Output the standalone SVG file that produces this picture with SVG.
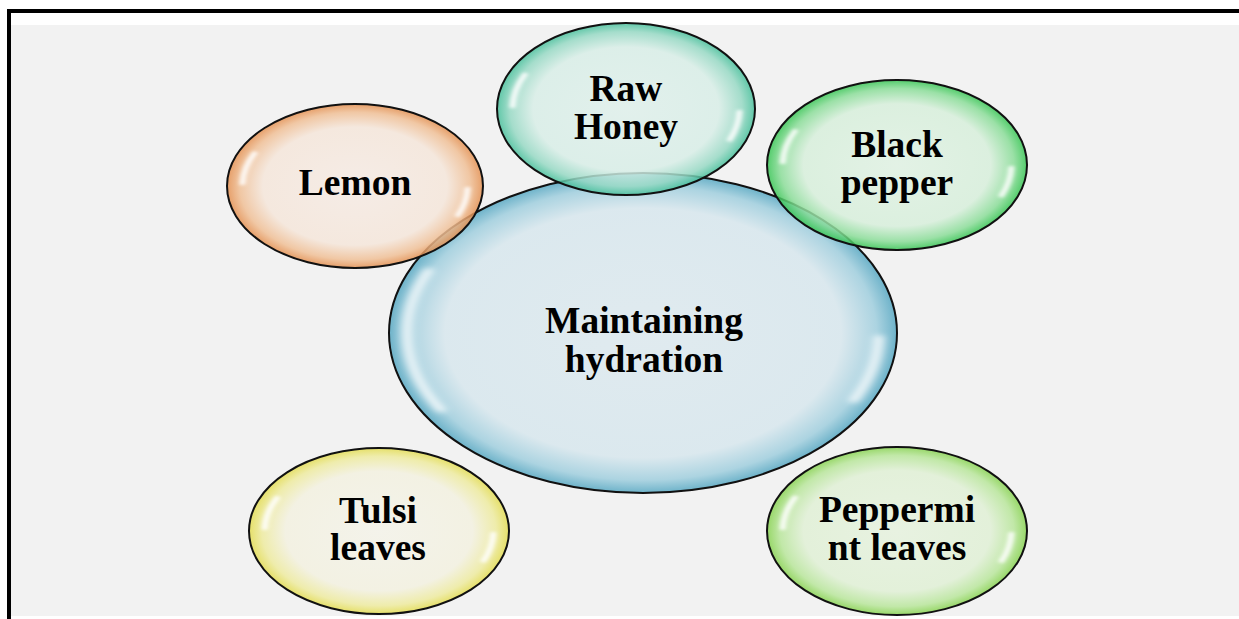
<svg xmlns="http://www.w3.org/2000/svg" xmlns:xlink="http://www.w3.org/1999/xlink" width="1239" height="619" viewBox="0 0 1239 619">
<style>
.lbl{font-family:"Liberation Serif","Times New Roman",serif;font-weight:bold;font-size:37.5px;fill:#000;text-anchor:middle}
.bub{stroke:#111;stroke-width:2}
.sat{fill-opacity:0.84}
.hlp{fill:none;stroke:#fff;stroke-width:0.045;stroke-linecap:round;opacity:0.9}
</style>
<defs>
<filter id="soft" x="-50%" y="-50%" width="200%" height="200%"><feGaussianBlur stdDeviation="0.018"/></filter>
<radialGradient id="gLemon" cx="0.5" cy="0.5" r="0.5"><stop offset="0" stop-color="#F6EBE4"/><stop offset="0.72" stop-color="#F5E6DA"/><stop offset="0.9" stop-color="#F0BF95"/><stop offset="1" stop-color="#E48F4F"/></radialGradient>
<radialGradient id="gHoney" cx="0.5" cy="0.5" r="0.5"><stop offset="0" stop-color="#DFF0EB"/><stop offset="0.72" stop-color="#D8EEE7"/><stop offset="0.9" stop-color="#96D9C4"/><stop offset="1" stop-color="#45BF9A"/></radialGradient>
<radialGradient id="gBlack" cx="0.5" cy="0.5" r="0.5"><stop offset="0" stop-color="#E0F2E3"/><stop offset="0.72" stop-color="#D7EFDB"/><stop offset="0.9" stop-color="#8ADD98"/><stop offset="1" stop-color="#35C552"/></radialGradient>
<radialGradient id="gMain" cx="0.5" cy="0.5" r="0.5"><stop offset="0" stop-color="#DFEAEF"/><stop offset="0.78" stop-color="#DAE8EE"/><stop offset="0.92" stop-color="#A8D2E0"/><stop offset="1" stop-color="#66AFC7"/></radialGradient>
<radialGradient id="gTulsi" cx="0.5" cy="0.5" r="0.5"><stop offset="0" stop-color="#F4F3E9"/><stop offset="0.72" stop-color="#F3F1E0"/><stop offset="0.9" stop-color="#EEEB9E"/><stop offset="1" stop-color="#E3DC4F"/></radialGradient>
<radialGradient id="gMint" cx="0.5" cy="0.5" r="0.5"><stop offset="0" stop-color="#E6F2DE"/><stop offset="0.72" stop-color="#E0F0D5"/><stop offset="0.9" stop-color="#B8E69A"/><stop offset="1" stop-color="#86D24E"/></radialGradient>
<g id="hl" filter="url(#soft)">
<path class="hlp" d="M -0.784 -0.4 A 0.88 0.88 0 0 0 -0.879 -0.031"/>
<path class="hlp" d="M 0.879 0.031 A 0.88 0.88 0 0 1 0.804 0.358"/>
</g>
<g id="hlMain" filter="url(#soft)">
<path class="hlp" style="stroke-width:0.035" d="M -0.845 -0.39 A 0.93 0.93 0 0 0 -0.796 0.48"/>
<path class="hlp" style="stroke-width:0.035" d="M 0.929 0.03 A 0.93 0.93 0 0 1 0.830 0.42"/>
</g>
</defs>
<rect x="0" y="0" width="1239" height="619" fill="#fff"/>
<rect x="11" y="25" width="1228" height="591" fill="#F2F2F2"/>
<rect x="7" y="9" width="1232" height="4" fill="#000"/>
<rect x="7" y="9" width="4" height="610" fill="#000"/>
<g id="connectors"/>
<g id="main">
<ellipse class="bub" cx="643" cy="333" rx="254" ry="160" fill="url(#gMain)" fill-opacity="0.95"/>
<use xlink:href="#hlMain" transform="translate(643 333) scale(254 160)"/>
<text class="lbl" x="644" y="333">Maintaining</text>
<text class="lbl" x="644" y="372">hydration</text>
</g>
<g id="lemon">
<ellipse class="bub sat" cx="355" cy="186" rx="128" ry="82" fill="url(#gLemon)"/>
<use xlink:href="#hl" transform="translate(355 186) scale(128 82)"/>
<text class="lbl" x="355" y="195">Lemon</text>
</g>
<g id="raw-honey">
<ellipse class="bub sat" cx="626" cy="109" rx="129" ry="86" fill="url(#gHoney)"/>
<use xlink:href="#hl" transform="translate(626 109) scale(129 86)"/>
<text class="lbl" x="626" y="101">Raw</text>
<text class="lbl" x="626" y="139">Honey</text>
</g>
<g id="black-pepper">
<ellipse class="bub sat" cx="897" cy="165" rx="130" ry="85" fill="url(#gBlack)"/>
<use xlink:href="#hl" transform="translate(897 165) scale(130 85)"/>
<text class="lbl" x="897" y="157">Black</text>
<text class="lbl" x="897" y="195">pepper</text>
</g>
<g id="tulsi-leaves">
<ellipse class="bub sat" cx="379" cy="531" rx="130" ry="83" fill="url(#gTulsi)"/>
<use xlink:href="#hl" transform="translate(379 531) scale(130 83)"/>
<text class="lbl" x="378" y="523">Tulsi</text>
<text class="lbl" x="378" y="560">leaves</text>
</g>
<g id="peppermint-leaves">
<ellipse class="bub sat" cx="897" cy="531" rx="130" ry="84" fill="url(#gMint)"/>
<use xlink:href="#hl" transform="translate(897 531) scale(130 84)"/>
<text class="lbl" x="897" y="522">Peppermi</text>
<text class="lbl" x="897" y="560">nt leaves</text>
</g>
</svg>
